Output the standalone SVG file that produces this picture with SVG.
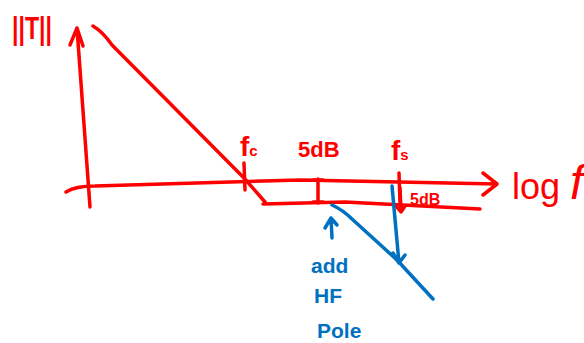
<svg xmlns="http://www.w3.org/2000/svg" width="584" height="343" viewBox="0 0 584 343">
<style>
.r{fill:none;stroke:#ff0000;stroke-width:3.5;stroke-linecap:round;stroke-linejoin:round}
.b{fill:none;stroke:#0070c0;stroke-width:3.5;stroke-linecap:round;stroke-linejoin:round}
.rt{fill:#ff0000;font-family:"Liberation Sans",sans-serif}
.bt{fill:#0070c0;font-family:"Liberation Sans",sans-serif;font-weight:bold}
</style>
<rect width="584" height="343" fill="#fff"/>
<g id="axes">
<path class="r" d="M90,207 L77,28 M70,45 L77,28 L83,46"/>
<path class="r" d="M66,192 Q75,186 95,186 L300,180 L497,184 M483,173 L497,184 L483,195"/>
<text class="rt" x="12" y="39" font-size="31" font-weight="bold" textLength="40" lengthAdjust="spacingAndGlyphs">||T||</text>
<text class="rt" x="512" y="199" font-size="36">log <tspan font-size="48" font-style="italic">f</tspan></text>
</g>
<g id="response">
<path class="r" d="M93,26 Q103,32 112,45 L244,178 L265,202 M263,204 L345,202 L480,209"/>
</g>
<g id="fc">
<path class="r" d="M244,163 L245,190"/>
<text class="rt" x="240" y="156" font-size="28" font-weight="bold">f<tspan font-size="15">c</tspan></text>
</g>
<g id="fs">
<path class="r" d="M399,173 L400,202"/>
<text class="rt" x="391" y="160" font-size="28" font-weight="bold">f<tspan font-size="15">s</tspan></text>
</g>
<g id="margin1">
<path class="r" d="M318,179 L318,203 M313,180 L323,180 M313,202 L323,202"/>
<text class="rt" x="298" y="157" font-size="22" font-weight="bold">5dB</text>
</g>
<g id="margin2">
<path class="r" d="M400,188 L401,211 M396,206 L401,212 L405,206"/>
<text class="rt" x="410" y="205" font-size="16" font-weight="bold">5dB</text>
</g>
<g id="hfpole">
<path class="b" d="M332,238 L331,218 M325,228 L331,218 L337,225"/>
<path class="b" d="M332,205 Q343,210 352,219 L397,260 L433,299"/>
<path class="b" d="M392,186 L399,263 M393,253 L399,263 L405,255"/>
<text class="bt" x="311" y="273" font-size="21">add</text>
<text class="bt" x="314" y="303" font-size="21">HF</text>
<text class="bt" x="317" y="338" font-size="21">Pole</text>
</g>
</svg>
